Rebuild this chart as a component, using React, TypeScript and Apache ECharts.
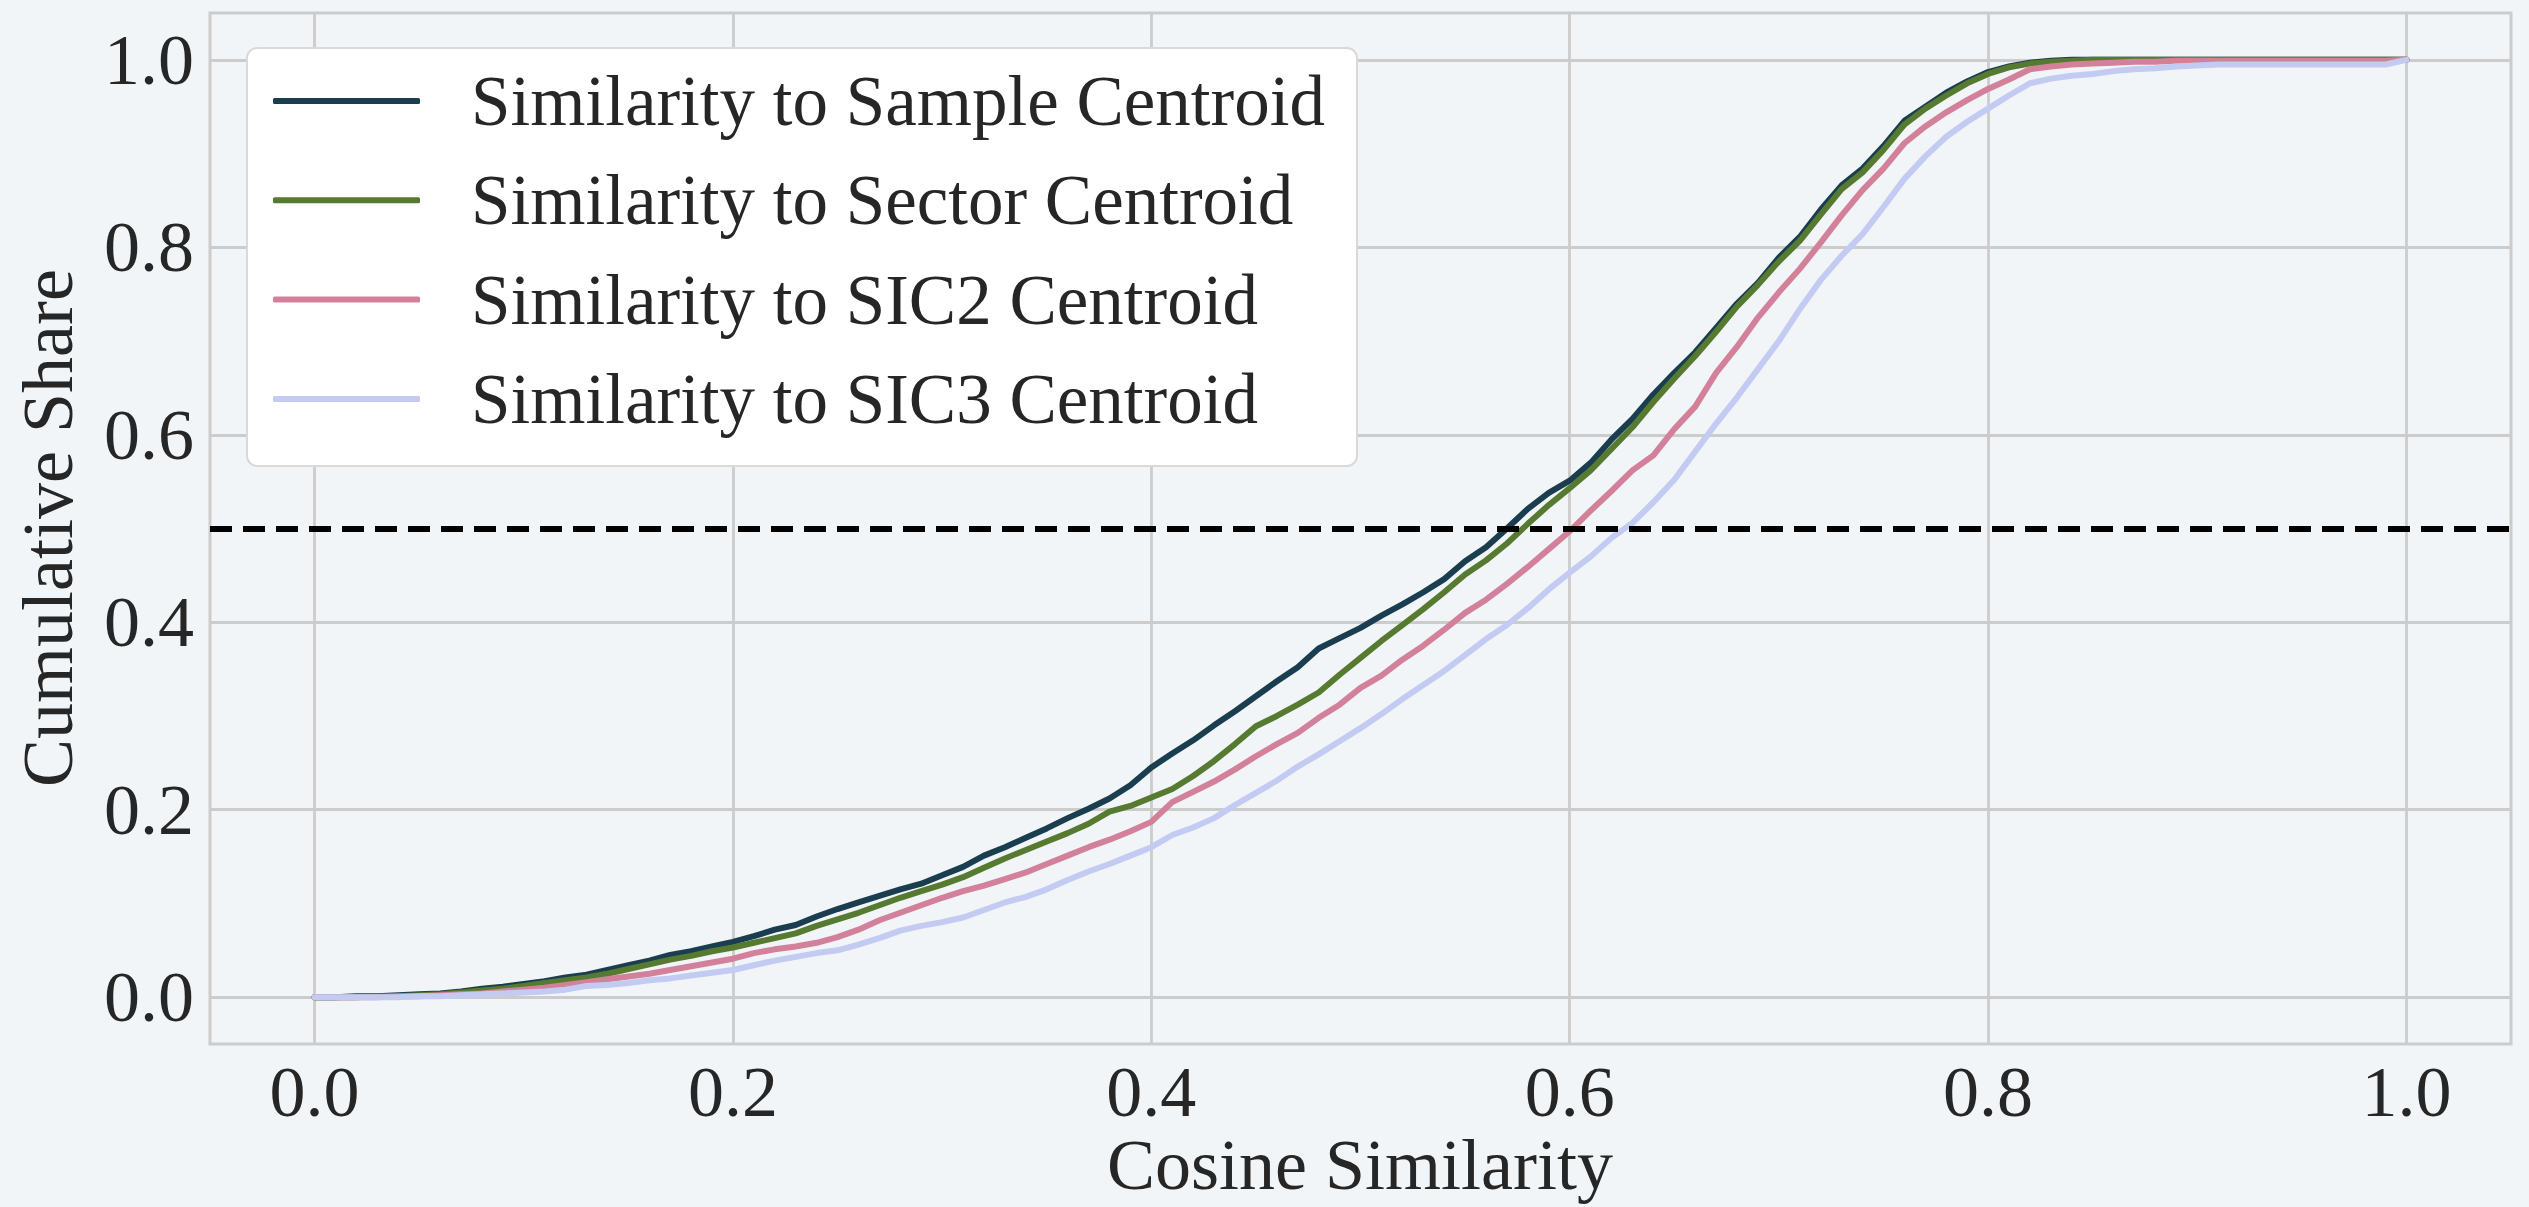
import React, { useEffect, useRef } from "react";
import * as echarts from "echarts";

// Sampling grid of cosine similarity values (x positions of every curve)
const SIMILARITY = [
  0.0, 0.01, 0.02, 0.03, 0.04, 0.05, 0.06, 0.07, 0.08, 0.09,
  0.1, 0.11, 0.12, 0.13, 0.14, 0.15, 0.16, 0.17, 0.18, 0.19,
  0.2, 0.21, 0.22, 0.23, 0.24, 0.25, 0.26, 0.27, 0.28, 0.29,
  0.3, 0.31, 0.32, 0.33, 0.34, 0.35, 0.36, 0.37, 0.38, 0.39,
  0.4, 0.41, 0.42, 0.43, 0.44, 0.45, 0.46, 0.47, 0.48, 0.49,
  0.5, 0.51, 0.52, 0.53, 0.54, 0.55, 0.56, 0.57, 0.58, 0.59,
  0.6, 0.61, 0.62, 0.63, 0.64, 0.65, 0.66, 0.67, 0.68, 0.69,
  0.7, 0.71, 0.72, 0.73, 0.74, 0.75, 0.76, 0.77, 0.78, 0.79,
  0.8, 0.81, 0.82, 0.83, 0.84, 0.85, 0.86, 0.87, 0.88, 0.89,
  0.9, 0.91, 0.92, 0.93, 0.94, 0.95, 0.96, 0.97, 0.98, 0.99,
  1.0,
];

// Cumulative share of firms at or below each similarity value
const SAMPLE_CENTROID = [
  0.0, 0.0, 0.001, 0.001, 0.002, 0.003, 0.004, 0.006, 0.009, 0.011,
  0.014, 0.017, 0.021, 0.024, 0.029, 0.034, 0.039, 0.045, 0.049, 0.054,
  0.059, 0.065, 0.072, 0.077, 0.086, 0.094, 0.101, 0.108, 0.115, 0.121,
  0.13, 0.139, 0.151, 0.16, 0.17, 0.18, 0.191, 0.201, 0.212, 0.226,
  0.245, 0.26, 0.274, 0.29, 0.305, 0.321, 0.337, 0.352, 0.372, 0.383,
  0.394, 0.407, 0.419, 0.432, 0.446, 0.465, 0.48, 0.5, 0.521, 0.538,
  0.551, 0.57, 0.595, 0.617, 0.643, 0.666, 0.688, 0.714, 0.74, 0.762,
  0.789, 0.811, 0.84, 0.866, 0.884, 0.908, 0.935, 0.95, 0.965, 0.977,
  0.987, 0.993, 0.997, 0.999, 1.0, 1.0, 1.0, 1.0, 1.0, 1.0,
  1.0, 1.0, 1.0, 1.0, 1.0, 1.0, 1.0, 1.0, 1.0, 1.0,
  1.0,
];

const SECTOR_CENTROID = [
  0.0, 0.0, 0.0, 0.001, 0.001, 0.002, 0.003, 0.005, 0.007, 0.009,
  0.012, 0.015, 0.018, 0.021, 0.025, 0.03, 0.035, 0.04, 0.044, 0.049,
  0.053, 0.058, 0.063, 0.068, 0.076, 0.083, 0.09, 0.098, 0.106, 0.113,
  0.12, 0.128, 0.138, 0.148, 0.157, 0.166, 0.175, 0.185, 0.198, 0.204,
  0.213, 0.222, 0.236, 0.252, 0.27, 0.289, 0.3, 0.312, 0.325, 0.344,
  0.362, 0.38, 0.397, 0.414, 0.432, 0.451, 0.466, 0.484, 0.505, 0.525,
  0.543, 0.562, 0.585, 0.608, 0.635, 0.66, 0.684, 0.71, 0.737, 0.76,
  0.785, 0.807, 0.835, 0.862, 0.88, 0.904, 0.931, 0.948, 0.962, 0.975,
  0.985, 0.992, 0.996, 0.998, 0.999, 1.0, 1.0, 1.0, 1.0, 1.0,
  1.0, 1.0, 1.0, 1.0, 1.0, 1.0, 1.0, 1.0, 1.0, 1.0,
  1.0,
];

const SIC2_CENTROID = [
  0.0, 0.0, 0.0, 0.0, 0.001, 0.001, 0.002, 0.003, 0.004, 0.006,
  0.008, 0.01, 0.013, 0.016, 0.019, 0.022, 0.025, 0.029, 0.033, 0.037,
  0.041, 0.047, 0.051, 0.054, 0.058, 0.064, 0.072, 0.082, 0.09, 0.098,
  0.106, 0.113, 0.119, 0.126, 0.133, 0.142, 0.151, 0.16, 0.168, 0.177,
  0.187, 0.208, 0.219, 0.23, 0.243, 0.257, 0.27, 0.282, 0.298, 0.312,
  0.33, 0.343, 0.36, 0.375, 0.392, 0.41, 0.424, 0.441, 0.459, 0.478,
  0.497, 0.519, 0.54, 0.562, 0.578, 0.606, 0.63, 0.666, 0.694, 0.725,
  0.752, 0.777, 0.805, 0.834, 0.861, 0.884, 0.911, 0.929, 0.944, 0.957,
  0.969, 0.979, 0.99, 0.993, 0.995, 0.996, 0.997, 0.998, 0.998, 0.999,
  0.999, 0.999, 0.999, 0.999, 0.999, 0.999, 0.999, 0.999, 0.999, 0.999,
  1.0,
];

const SIC3_CENTROID = [
  0.0, 0.0, 0.0, 0.0, 0.0, 0.001, 0.001, 0.002, 0.003, 0.004,
  0.005, 0.006, 0.008, 0.012, 0.013, 0.015, 0.018, 0.02, 0.023, 0.026,
  0.029, 0.034, 0.039, 0.043, 0.047, 0.05, 0.056, 0.063, 0.071, 0.076,
  0.08, 0.085, 0.093, 0.101, 0.107, 0.115, 0.125, 0.134, 0.142, 0.151,
  0.16, 0.173, 0.181, 0.191, 0.205, 0.218, 0.231, 0.246, 0.259, 0.273,
  0.287, 0.302, 0.318, 0.333, 0.348, 0.365, 0.382, 0.397, 0.415, 0.435,
  0.453, 0.47, 0.49, 0.506, 0.528, 0.552, 0.582, 0.612, 0.64, 0.67,
  0.7, 0.734, 0.765, 0.791, 0.814, 0.843, 0.873, 0.897, 0.918, 0.934,
  0.948, 0.962, 0.975, 0.98, 0.983, 0.985, 0.988, 0.99, 0.991, 0.993,
  0.994, 0.995, 0.995, 0.995, 0.995, 0.995, 0.995, 0.995, 0.995, 0.995,
  1.0,
];

const SERIES_NAMES = [
  "Similarity to Sample Centroid",
  "Similarity to Sector Centroid",
  "Similarity to SIC2 Centroid",
  "Similarity to SIC3 Centroid",
];
const SERIES_VALUES = [SAMPLE_CENTROID, SECTOR_CENTROID, SIC2_CENTROID, SIC3_CENTROID];
const SERIES_COLORS = ["#1a3e4f", "#577a31", "#d3819a", "#c3cbf3"];

const TICKS = [0.0, 0.2, 0.4, 0.6, 0.8, 1.0];
const MEDIAN_SHARE = 0.5;

const FONT = '"Liberation Serif", "Times New Roman", serif';
const BG = "#f1f5f8";
const GRID_COLOR = "#cccccc";
const TEXT_COLOR = "#262626";

export default function App() {
  const ref = useRef<HTMLDivElement>(null);

  useEffect(() => {
    if (!ref.current) return;
    const chart = echarts.init(ref.current, undefined, { renderer: "svg" });

    const lineSeries = SERIES_NAMES.map((name, s) => ({
      name,
      type: "line",
      data: SIMILARITY.map((x, i) => [x, SERIES_VALUES[s][i]]),
      showSymbol: false,
      symbol: "none",
      color: SERIES_COLORS[s],
      lineStyle: { color: SERIES_COLORS[s], width: 6, cap: "round", join: "round" },
      z: 2,
    }));

    const option = {
      animation: false,
      backgroundColor: BG,
      textStyle: { fontFamily: FONT },
      grid: {
        left: 210,
        right: 18,
        top: 13,
        bottom: 163,
        show: true,
        backgroundColor: BG,
        borderColor: GRID_COLOR,
        borderWidth: 3,
        containLabel: false,
        outerBoundsMode: "none",
      },
      xAxis: {
        type: "value",
        min: -0.05,
        max: 1.05,
        axisLine: { show: false },
        axisTick: { show: false, customValues: TICKS },
        axisLabel: {
          customValues: TICKS,
          formatter: (v: number) => v.toFixed(1),
          fontSize: 72,
          lineHeight: 60,
          fontFamily: FONT,
          color: TEXT_COLOR,
          margin: 18,
        },
        splitLine: { show: true, lineStyle: { color: GRID_COLOR, width: 2.8 } },
      },
      yAxis: {
        type: "value",
        min: -0.05,
        max: 1.05,
        axisLine: { show: false },
        axisTick: { show: false, customValues: TICKS },
        axisLabel: {
          customValues: TICKS,
          formatter: (v: number) => v.toFixed(1),
          fontSize: 72,
          fontFamily: FONT,
          color: TEXT_COLOR,
          margin: 16,
        },
        splitLine: { show: true, lineStyle: { color: GRID_COLOR, width: 2.8 } },
      },
      legend: {
        data: SERIES_NAMES,
        orient: "vertical",
        left: 273,
        top: 61,
        padding: 0,
        itemGap: 19.3,
        itemWidth: 147,
        itemHeight: 6,
        icon: "roundRect",
        selectedMode: false,
        z: 10,
        textStyle: {
          fontSize: 71,
          lineHeight: 80,
          fontFamily: FONT,
          color: TEXT_COLOR,
          padding: [0, 0, 0, 46],
        },
      },
      graphic: [
        {
          type: "rect",
          z: 3,
          shape: { x: 247, y: 48, width: 1110, height: 418, r: 10 },
          style: { fill: "#ffffff", stroke: "#d9d9d9", lineWidth: 2 },
        },
        {
          type: "text",
          x: 1360,
          y: 1165,
          z: 3,
          style: {
            text: "Cosine Similarity",
            font: `72px ${FONT}`,
            lineHeight: 60,
            fill: TEXT_COLOR,
            align: "center",
            verticalAlign: "middle",
          },
        },
        {
          type: "text",
          x: 48,
          y: 528,
          z: 3,
          rotation: Math.PI / 2,
          style: {
            text: "Cumulative Share",
            font: `72px ${FONT}`,
            fill: TEXT_COLOR,
            align: "center",
            verticalAlign: "middle",
          },
        },
      ],
      series: [
        ...lineSeries,
        {
          name: "median",
          type: "line",
          data: [],
          z: 4,
          markLine: {
            silent: true,
            symbol: ["none", "none"],
            label: { show: false },
            lineStyle: { color: "#000000", type: [22, 11], width: 6 },
            data: [{ yAxis: MEDIAN_SHARE }],
          },
        },
      ],
    };

    chart.setOption(option as any);
    return () => chart.dispose();
  }, []);

  return (
    <div
      ref={ref}
      style={{ position: "fixed", left: 0, top: 0, width: 2529, height: 1207, background: BG }}
    />
  );
}
